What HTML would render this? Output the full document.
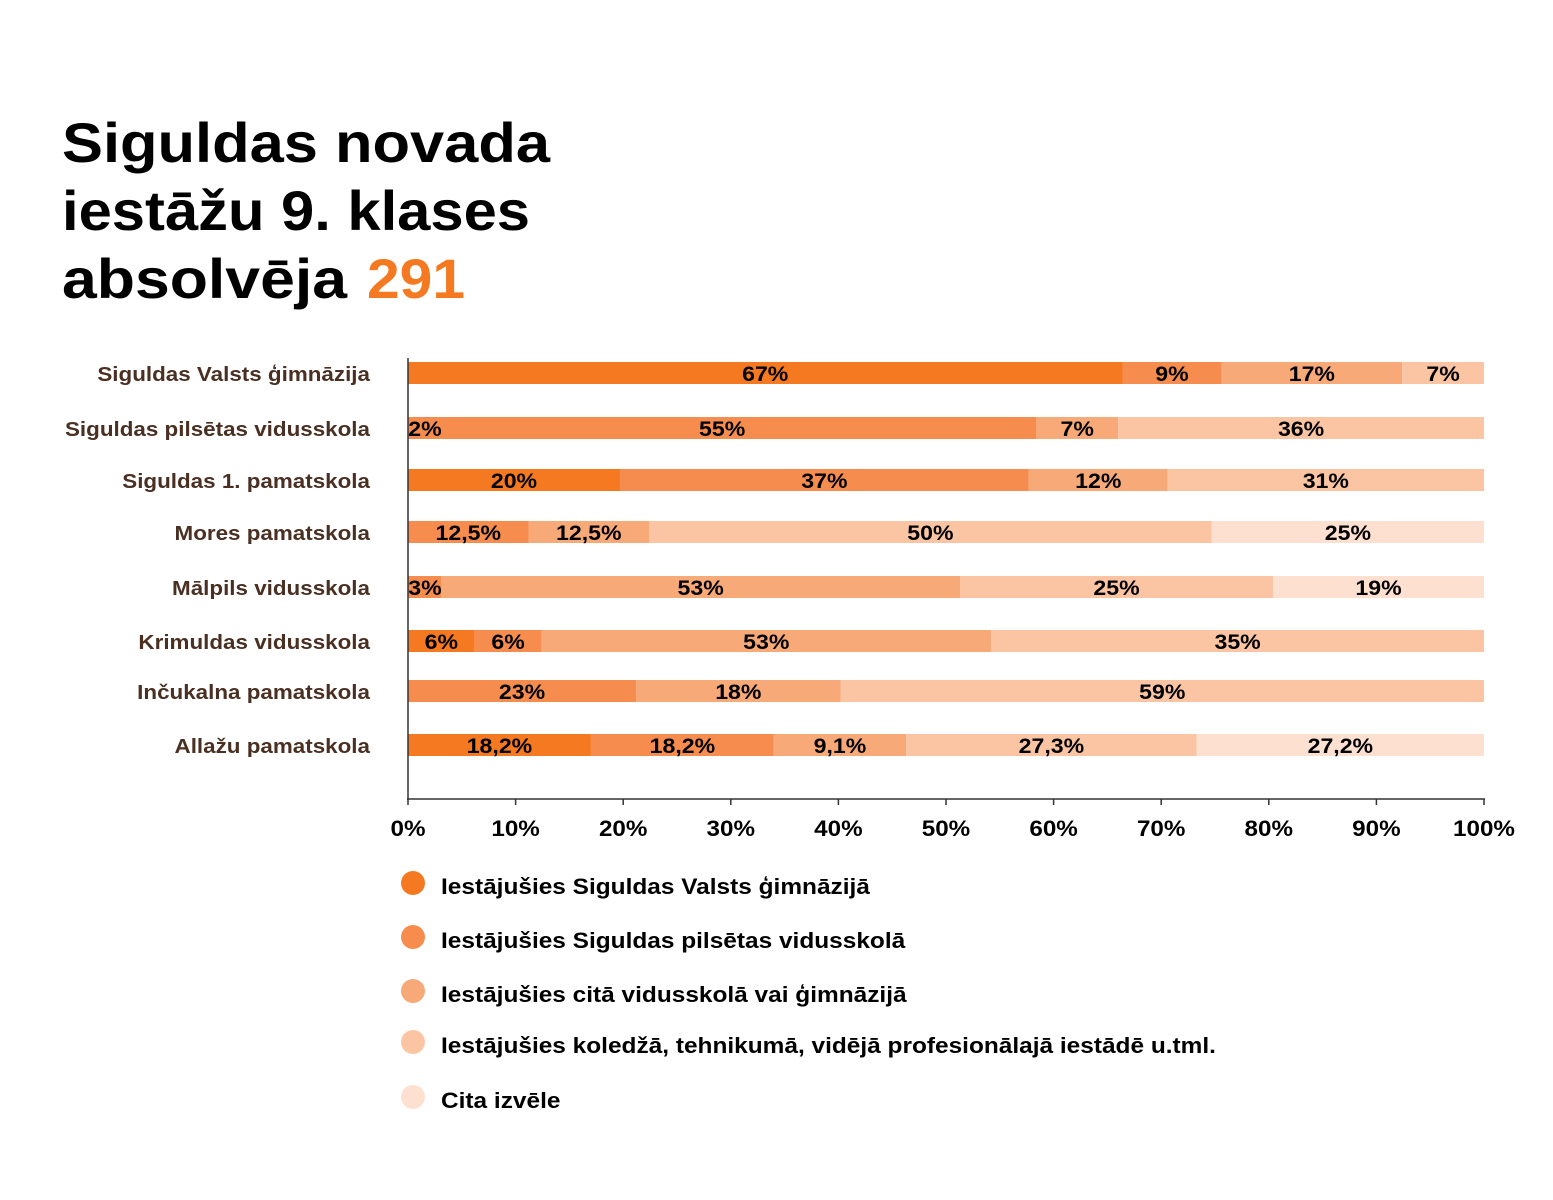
<!DOCTYPE html>
<html><head><meta charset="utf-8"><style>body{margin:0;background:#fff}svg{display:block;font-family:"Liberation Sans",sans-serif;font-weight:bold}</style></head>
<body>
<svg id="c" width="1553" height="1200">
<g font-size="56" fill="#000">
<text x="62" y="162" textLength="488" lengthAdjust="spacingAndGlyphs">Siguldas novada</text>
<text x="62" y="230" textLength="468" lengthAdjust="spacingAndGlyphs">iestāžu 9. klases</text>
<text x="62" y="298" textLength="285" lengthAdjust="spacingAndGlyphs">absolvēja</text>
<text x="367" y="298" fill="#f47920" textLength="98" lengthAdjust="spacingAndGlyphs">291</text>
</g>
</svg>
<script>
const categories=["Siguldas Valsts ģimnāzija","Siguldas pilsētas vidusskola","Siguldas 1. pamatskola","Mores pamatskola","Mālpils vidusskola","Krimuldas vidusskola","Inčukalna pamatskola","Allažu pamatskola"];
const seriesNames=["Iestājušies Siguldas Valsts ģimnāzijā","Iestājušies Siguldas pilsētas vidusskolā","Iestājušies citā vidusskolā vai ģimnāzijā","Iestājušies koledžā, tehnikumā, vidējā profesionālajā iestādē u.tml.","Cita izvēle"];
const s0=[66.4,0,19.7,0,0,6.2,0,17];
const s1=[9.2,58.4,38,11.2,3.1,6.2,21.2,17];
const s2=[16.8,7.6,12.9,11.2,48.2,41.8,19,12.3];
const s3=[7.6,34,29.4,52.3,29.1,45.8,59.8,27];
const s4=[0,0,0,25.3,19.6,0,0,26.7];
const l0=["67%","2%","20%","","","6%","","18,2%"];
const l1=["9%","55%","37%","12,5%","3%","6%","23%","18,2%"];
const l2=["17%","7%","12%","12,5%","53%","53%","18%","9,1%"];
const l3=["7%","36%","31%","50%","25%","35%","59%","27,3%"];
const l4=["","","","25%","19%","","","27,2%"];
const ticks=[0,10,20,30,40,50,60,70,80,90,100];
const colors=["#f47920","#f68d4e","#f8a978","#fbc5a3","#fde0d0"];
const series=[s0,s1,s2,s3,s4], labels=[l0,l1,l2,l3,l4];
const rowY=[373,428,480,532,587,641,691,745];
const NS="http://www.w3.org/2000/svg", svg=document.getElementById('c');
const X=v=>408+v*10.76;
function mk(t,a,txt){const e=document.createElementNS(NS,t);for(const k in a)e.setAttribute(k,a[k]);if(txt!=null)e.textContent=txt;svg.appendChild(e);return e;}
function widen(t,f){const w=t.getComputedTextLength();t.setAttribute('textLength',w*f);t.setAttribute('lengthAdjust','spacingAndGlyphs');}
const pending=[];
categories.forEach((c,i)=>{
 const t=mk('text',{x:370,y:rowY[i]+8,'text-anchor':'end','font-size':20,fill:'#4a3022'},c);
 
 
 widen(t,1.12);
 let acc=0;
 series.forEach((s,k)=>{
  const v=s[i];
  if(v>0){const r=mk('rect',{x:X(acc),y:rowY[i]-11,width:X(acc+v)-X(acc),height:22,fill:colors[k]});
   
   }
  const lb=labels[k][i];
  if(lb){let cx=(X(acc)+X(acc+v))/2;cx=Math.max(cx,X(acc)+17);pending.push([cx,rowY[i]+8,lb]);}
  acc+=v;
 });
});
pending.forEach(p=>{
 const t2=mk('text',{x:p[0],y:p[1],'text-anchor':'middle','font-size':21,fill:'#000'},p[2]);
 
 
 widen(t2,1.1);
});
const ya=mk('line',{x1:408,y1:358,x2:408,y2:800,stroke:'#333','stroke-width':1.5});


const xa=mk('line',{x1:407,y1:799,x2:1485,y2:799,stroke:'#333','stroke-width':1.5});


ticks.forEach(v=>{
 const tk=mk('line',{x1:X(v),y1:799,x2:X(v),y2:805,stroke:'#333','stroke-width':1.5});
 
 
 const tl=mk('text',{x:X(v),y:836,'text-anchor':'middle','font-size':22,fill:'#000'},v+'%');
 
 
 widen(tl,1.1);
});
const legY=[883,937,991,1042,1097];
seriesNames.forEach((n,k)=>{
 const c=mk('circle',{cx:413,cy:legY[k],r:12,fill:colors[k]});
 
 
 const t=mk('text',{x:441,y:legY[k]+11,'font-size':22,fill:'#000'},n);
 
 
 widen(t,1.11);
});
</script>
</body></html>
